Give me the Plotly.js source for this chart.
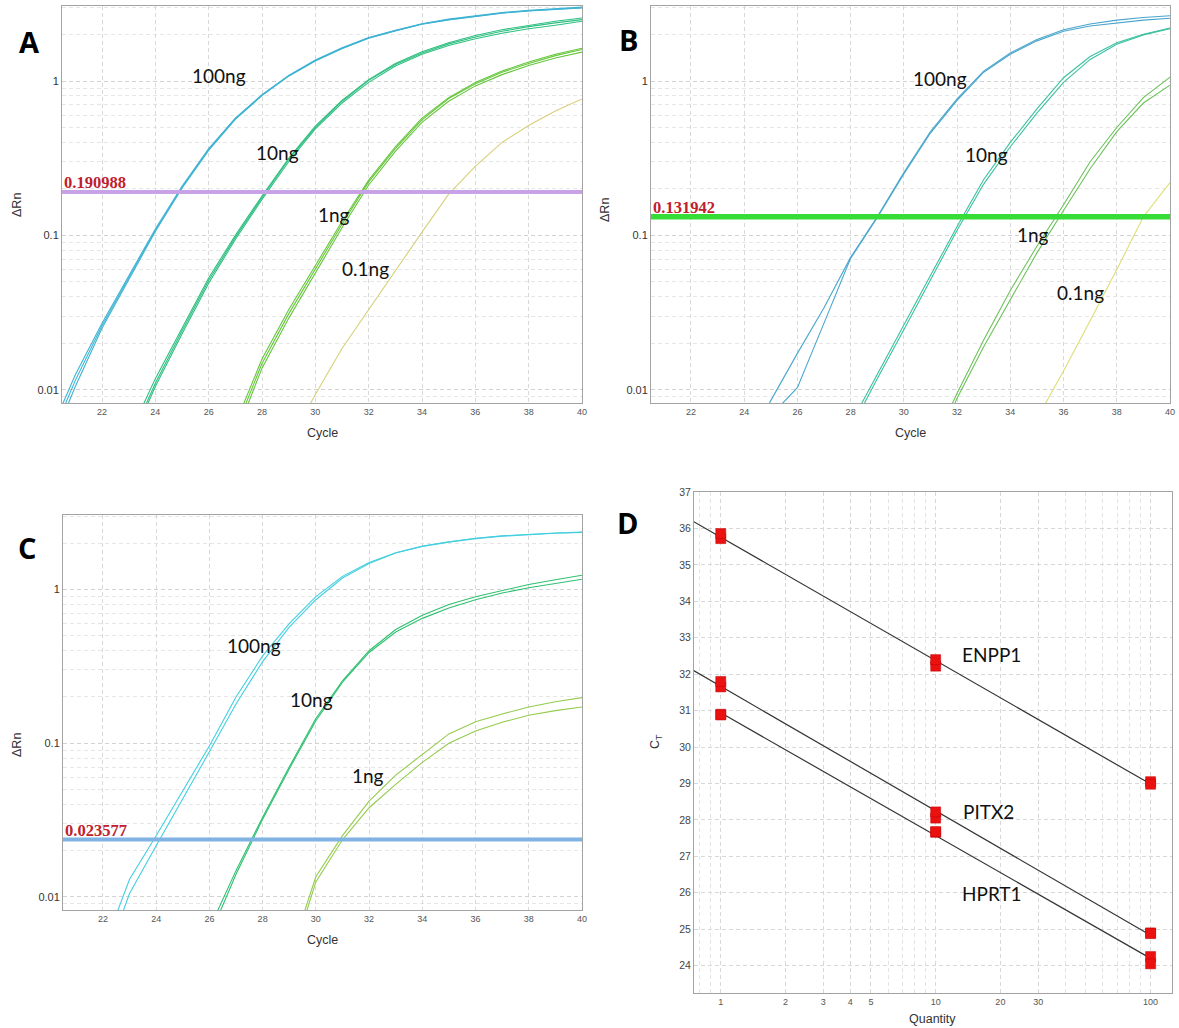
<!DOCTYPE html>
<html><head><meta charset="utf-8">
<script src="https://cdn.plot.ly/plotly-3.0.1.min.js"></script>
<style>html,body{margin:0;padding:0;background:#fff}#chart{width:1179px;height:1028px}</style>
</head><body><div id="chart"></div>
<script>
// ---------- data ----------
const cycles = [20,21,22,23,24,25,26,27,28,29,30,31,32,33,34,35,36,37,38,39,40];
const cycleTicks = [22,24,26,28,30,32,34,36,38,40];
const N = null;

// Panel A (ΔRn per cycle, replicates)
const A100a = [0.0045,0.0115,0.026,0.053,0.108,0.205,0.36,0.57,0.81,1.08,1.36,1.63,1.9,2.12,2.34,2.5,2.64,2.76,2.85,2.92,2.98];
const A100b = [0.005,0.0125,0.027,0.055,0.11,0.208,0.365,0.575,0.815,1.085,1.37,1.64,1.91,2.13,2.35,2.52,2.66,2.78,2.87,2.95,3.01];
const A100c = [0.004,0.0105,0.025,0.052,0.106,0.202,0.355,0.565,0.805,1.075,1.35,1.62,1.89,2.11,2.33,2.49,2.63,2.75,2.84,2.91,2.97];
const A10a = [N,N,N,0.0045,0.011,0.024,0.051,0.097,0.176,0.31,0.5,0.74,1.01,1.28,1.52,1.74,1.93,2.1,2.25,2.38,2.5];
const A10b = [N,N,N,0.0042,0.0105,0.023,0.049,0.094,0.171,0.3,0.49,0.72,0.98,1.25,1.49,1.7,1.88,2.04,2.18,2.3,2.44];
const A10c = [N,N,N,0.005,0.0118,0.025,0.053,0.1,0.18,0.315,0.51,0.75,1.02,1.3,1.55,1.77,1.97,2.15,2.3,2.44,2.56];
const A1a = [N,N,N,N,N,N,N,0.0055,0.0148,0.031,0.061,0.118,0.222,0.365,0.56,0.77,0.96,1.14,1.3,1.46,1.6];
const A1b = [N,N,N,N,N,N,N,0.005,0.0138,0.029,0.057,0.112,0.212,0.35,0.54,0.74,0.93,1.1,1.26,1.41,1.54];
const A1c = [N,N,N,N,N,N,N,0.006,0.0158,0.033,0.064,0.123,0.228,0.375,0.575,0.78,0.98,1.16,1.33,1.49,1.63];
const A01 = [N,N,N,N,N,N,N,N,N,0.0045,0.0093,0.0185,0.033,0.06,0.105,0.185,0.28,0.4,0.515,0.64,0.765];

// Panel B
const B100a = [N,N,N,N,0.004,0.0085,0.0172,0.034,0.072,0.132,0.255,0.47,0.765,1.16,1.52,1.86,2.15,2.34,2.48,2.58,2.65];
const B100b = [N,N,N,N,N,0.0068,0.0103,0.027,0.071,0.13,0.25,0.46,0.75,1.14,1.49,1.82,2.1,2.27,2.38,2.48,2.55];
const B10a = [N,N,N,N,N,N,N,N,0.006,0.0126,0.026,0.055,0.114,0.23,0.4,0.66,1.05,1.44,1.77,2.01,2.2];
const B10b = [N,N,N,N,N,N,N,N,0.0055,0.0118,0.0245,0.052,0.108,0.215,0.375,0.62,0.98,1.38,1.73,1.99,2.18];
const B1a = [N,N,N,N,N,N,N,N,N,N,N,0.004,0.0095,0.021,0.044,0.085,0.158,0.3,0.5,0.78,1.06];
const B1b = [N,N,N,N,N,N,N,N,N,N,N,0.0035,0.0088,0.019,0.038,0.077,0.145,0.27,0.47,0.72,0.94];
const B01 = [N,N,N,N,N,N,N,N,N,N,N,N,N,N,N,0.0065,0.0132,0.028,0.06,0.132,0.22];

// Panel C
const C100a = [N,N,0.0045,0.013,0.025,0.049,0.096,0.2,0.37,0.6,0.9,1.22,1.5,1.74,1.92,2.05,2.16,2.24,2.3,2.34,2.37];
const C100b = [N,N,0.0035,0.0105,0.0215,0.044,0.088,0.18,0.34,0.57,0.86,1.19,1.48,1.73,1.91,2.04,2.15,2.23,2.29,2.33,2.36];
const C10a = [N,N,N,N,N,N,0.0062,0.0148,0.033,0.07,0.145,0.255,0.4,0.55,0.68,0.8,0.9,0.99,1.08,1.16,1.24];
const C10b = [N,N,N,N,N,N,0.0055,0.014,0.032,0.068,0.14,0.25,0.39,0.53,0.65,0.76,0.86,0.95,1.03,1.1,1.17];
const C1a = [N,N,N,N,N,N,N,N,N,0.004,0.0135,0.025,0.042,0.062,0.085,0.115,0.138,0.155,0.172,0.186,0.198];
const C1b = [N,N,N,N,N,N,N,N,N,0.0035,0.0125,0.0235,0.038,0.054,0.075,0.1,0.12,0.137,0.152,0.163,0.172];

// thresholds
const thresholds = [0.190988, 0.131942, 0.023577];
const thresholdText = ['0.190988', '0.131942', '0.023577'];

// Panel D standard curves
const quantity = [1,1,10,10,100,100];
const ctENPP1 = [35.72,35.86,32.22,32.4,29.05,28.98];
const ctPITX2 = [31.65,31.8,28.05,28.22,24.9,24.88];
const ctHPRT1 = [30.9,30.88,27.66,27.68,24.25,24.05];
const fitENPP1Range = [0.74, 100];
const fitPITX2Range = [0.74, 100];
const fitHPRT1Range = [1, 100];
const qTicks = [1,2,3,4,5,10,20,30,100];
const ctTicks = [24,25,26,27,28,29,30,31,32,33,34,35,36,37];

// ---------- helpers ----------
const W = 1179, H = 1028;
const px = x => x / W, py = y => 1 - y / H;

const traces = [];
function curves(list, color, xa, ya){
  list.forEach(arr => traces.push({x: cycles, y: arr, type:'scatter', mode:'lines',
    line:{color, width:1.1}, xaxis:xa, yaxis:ya, hoverinfo:'skip', showlegend:false, connectgaps:false}));
}
curves([A100a,A100b,A100c], '#3fb3d3', 'x', 'y');
curves([A10a,A10b,A10c], '#2fbf80', 'x', 'y');
curves([A1a,A1b,A1c], '#66c63c', 'x', 'y');
curves([A01], '#d8cf7a', 'x', 'y');

curves([B100a,B100b], '#4aa6cc', 'x2', 'y2');
curves([B10a,B10b], '#3cc0a0', 'x2', 'y2');
curves([B1a,B1b], '#6cc25a', 'x2', 'y2');
curves([B01], '#e0dc74', 'x2', 'y2');

curves([C100a,C100b], '#44cfe0', 'x3', 'y3');
curves([C10a,C10b], '#2fc070', 'x3', 'y3');
curves([C1a,C1b], '#94cc4c', 'x3', 'y3');

const thrColors = ['#c8a2e6', '#36dd36', '#80b2e4'];
const thrWidths = [4, 5.5, 4];
['', '2', '3'].forEach((s, i) => {
  traces.push({x:[20.5, 40], y:[thresholds[i], thresholds[i]], type:'scatter', mode:'lines',
    line:{color:thrColors[i], width:thrWidths[i]}, xaxis:'x'+s, yaxis:'y'+s, hoverinfo:'skip', showlegend:false});
});

// regression fits
function fit(q, ct){
  const lx = q.map(v => Math.log10(v));
  const n = lx.length, mx = lx.reduce((a,b)=>a+b)/n, my = ct.reduce((a,b)=>a+b)/n;
  let sxy = 0, sxx = 0;
  for (let i=0;i<n;i++){ sxy += (lx[i]-mx)*(ct[i]-my); sxx += (lx[i]-mx)**2; }
  const m = sxy/sxx, b = my - m*mx;
  return q2 => m*Math.log10(q2) + b;
}
[[ctENPP1, fitENPP1Range],[ctPITX2, fitPITX2Range],[ctHPRT1, fitHPRT1Range]].forEach(([ct, rng]) => {
  const f = fit(quantity, ct);
  traces.push({x: rng, y: rng.map(f), type:'scatter', mode:'lines', line:{color:'#333', width:1.2},
    xaxis:'x4', yaxis:'y4', hoverinfo:'skip', showlegend:false});
});
[ctENPP1, ctPITX2, ctHPRT1].forEach(ct => {
  traces.push({x: quantity, y: ct, type:'scatter', mode:'markers',
    marker:{symbol:'square', size:10, color:'#ec1111', line:{color:'#c00000', width:0.5}},
    xaxis:'x4', yaxis:'y4', hoverinfo:'skip', showlegend:false});
});

// ---------- axes ----------
const DASH = '4px,3px';
const frame = {showline:true, mirror:true, linecolor:'#a3a3a3', linewidth:1, zeroline:false, ticks:'', fixedrange:true};
const minorLog = [];
[0.001, 0.01, 0.1, 1].forEach(d => { for (let k=2;k<=9;k++) minorLog.push(+(d*k).toPrecision(3)); });
function cycleX(dom, anchor){
  return Object.assign({}, frame, {domain:dom, anchor, range:[20.5, 40], tickmode:'array', tickvals:cycleTicks,
    showgrid:true, gridcolor:'#d9d9d9', griddash:DASH, gridwidth:1,
    tickfont:{family:'Liberation Sans, Arial', size:9, color:'#555'}});
}
function rnY(dom, anchor){
  return Object.assign({}, frame, {domain:dom, anchor, type:'log', range:[-2.086, 0.486], tickmode:'array',
    tickvals:[0.01, 0.1, 1], ticktext:['0.01','0.1','1'],
    showgrid:true, gridcolor:'#d2d2d2', griddash:DASH, gridwidth:1,
    minor:{tickmode:'array', tickvals:minorLog, showgrid:true, gridcolor:'#e6e6e6', griddash:DASH, gridwidth:1, ticks:''},
    tickfont:{family:'Liberation Sans, Arial', size:11, color:'#333'}});
}
const minorQ = [0.8,0.9,6,7,8,9,40,50,60,70,80,90];

const layout = {
  width: W, height: H, margin:{l:0, r:0, t:0, b:0}, paper_bgcolor:'#fff', plot_bgcolor:'#fff', showlegend:false,
  xaxis: cycleX([px(62), px(582)], 'y'),
  yaxis: rnY([py(403), py(6)], 'x'),
  xaxis2: cycleX([px(651), px(1170)], 'y2'),
  yaxis2: rnY([py(403), py(6)], 'x2'),
  xaxis3: cycleX([px(63), px(582)], 'y3'),
  yaxis3: rnY([py(910), py(515)], 'x3'),
  xaxis4: Object.assign({}, frame, {domain:[px(694), px(1172)], anchor:'y4', type:'log', range:[-0.1245, 2.0996],
    tickmode:'array', tickvals:qTicks, ticktext:qTicks.map(String),
    showgrid:true, gridcolor:'#d8d8d8', griddash:DASH, gridwidth:1,
    minor:{tickmode:'array', tickvals:minorQ, showgrid:true, gridcolor:'#e4e4e4', griddash:DASH, ticks:''},
    tickfont:{family:'Liberation Sans, Arial', size:9, color:'#555'}}),
  yaxis4: Object.assign({}, frame, {domain:[py(993), py(492)], anchor:'x4', range:[23.25, 37],
    tickmode:'array', tickvals:ctTicks, showgrid:true, gridcolor:'#d8d8d8', griddash:DASH, gridwidth:1,
    tickfont:{family:'Liberation Sans, Arial', size:10.5, color:'#444'}}),
  annotations: []
};

const ann = layout.annotations;
function txt(text, x, y, opt){
  ann.push(Object.assign({text, x:px(x), y:py(y), xref:'paper', yref:'paper', showarrow:false,
    xanchor:'center', yanchor:'middle', font:{family:'Lato, Open Sans, sans-serif', size:19, color:'#111'}}, opt||{}));
}
// panel letters
const letterFont = {family:'Open Sans, Liberation Sans, sans-serif', size:29, color:'#000', weight:700};
txt('<b>A</b>', 29, 42, {font:letterFont});
txt('<b>B</b>', 628, 40, {font:letterFont});
txt('<b>C</b>', 27, 547, {font:letterFont});
txt('<b>D</b>', 627, 522, {font:letterFont});
// curve labels
txt('100ng', 219, 76); txt('10ng', 277, 152); txt('1ng', 334, 214); txt('0.1ng', 365, 269);
txt('100ng', 940, 79); txt('10ng', 986, 154); txt('1ng', 1033, 235); txt('0.1ng', 1080, 292);
txt('100ng', 254, 645); txt('10ng', 311, 699); txt('1ng', 368, 775);
txt('ENPP1', 991, 654); txt('PITX2', 988, 811); txt('HPRT1', 992, 893);
// axis titles
const axFont = {family:'Liberation Sans, Arial', size:12.5, color:'#333'};
txt('Cycle', 322, 433, {font:axFont}); txt('Cycle', 910, 433, {font:axFont}); txt('Cycle', 322, 940, {font:axFont});
txt('ΔRn', 17, 205, {font:axFont, textangle:-90}); txt('ΔRn', 605, 210, {font:axFont, textangle:-90});
txt('ΔRn', 17, 745, {font:axFont, textangle:-90});
txt('Quantity', 932, 1019, {font:axFont});
txt('C<sub>T</sub>', 656, 742, {font:axFont, textangle:-90});
// threshold labels
['', '2', '3'].forEach((s, i) => {
  ann.push({text:'<b>'+thresholdText[i]+'</b>', x:20.5, y:Math.log10(thresholds[i]), xref:'x'+s, yref:'y'+s,
    xanchor:'left', yanchor:'bottom', yshift:-2, xshift:0, showarrow:false,
    font:{family:'Liberation Serif, Times New Roman, serif', size:16.5, color:'#c0202c'}});
});

Plotly.newPlot('chart', traces, layout, {staticPlot:true, displayModeBar:false});
</script>
</body></html>
